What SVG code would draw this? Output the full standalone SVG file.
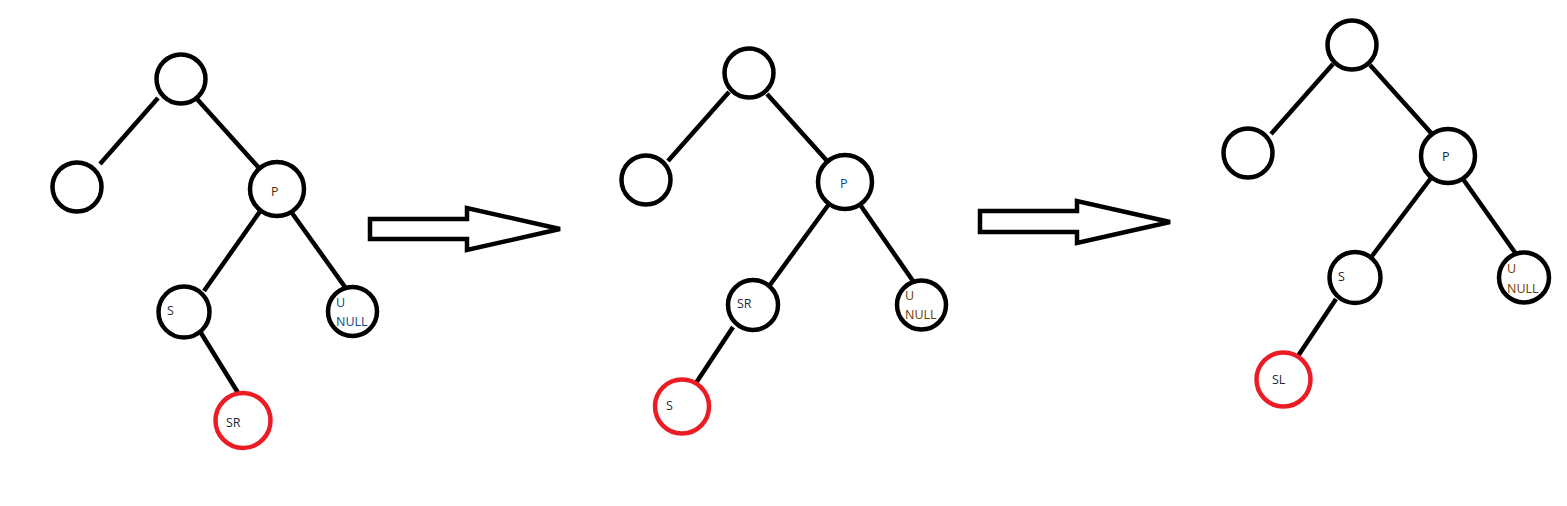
<svg xmlns="http://www.w3.org/2000/svg" width="1567" height="506" viewBox="0 0 1567 506">
<style>
.n{fill:#fff;stroke:#000;stroke-width:4.5}
.r{fill:#fff;stroke:#ec1c24;stroke-width:4.5}
.e{stroke:#000;stroke-width:4.5;stroke-linecap:butt}
.big{fill:#fff;stroke:#000;stroke-width:4.5;stroke-linejoin:miter}
text{font-family:"Open Sans","Noto Sans",sans-serif;font-size:12.5px;fill:#1e2a3a}
</style>
<rect width="1567" height="506" fill="#fff"/>
<g id="connectors">
<line class="e" x1="158" y1="98" x2="100" y2="164"/>
<line class="e" x1="197" y1="99" x2="259" y2="168"/>
<line class="e" x1="261" y1="210" x2="204" y2="291"/>
<line class="e" x1="292" y1="213" x2="345" y2="287"/>
<line class="e" x1="201" y1="333" x2="240" y2="396"/>
<line class="e" x1="729" y1="92" x2="668" y2="161"/>
<line class="e" x1="767" y1="94" x2="828" y2="162"/>
<line class="e" x1="829" y1="204" x2="770" y2="285"/>
<line class="e" x1="861" y1="206" x2="913" y2="281"/>
<line class="e" x1="733" y1="327" x2="696" y2="383"/>
<line class="e" x1="1333" y1="64" x2="1271" y2="134"/>
<line class="e" x1="1370" y1="65" x2="1432" y2="134"/>
<line class="e" x1="1431" y1="178" x2="1372" y2="256"/>
<line class="e" x1="1463" y1="179" x2="1516" y2="254"/>
<line class="e" x1="1336" y1="299" x2="1298" y2="356"/>
<polygon class="big" points="370,219 467,219 467,208 560,229 467,250 467,239 370,239"/>
<polygon class="big" points="980,211 1077,211 1077,201 1170,222 1077,243 1077,232 980,232"/>
</g>
<g id="t1-root"><circle class="n" cx="181" cy="79" r="24.5"/></g>
<g id="t1-left"><circle class="n" cx="77" cy="187" r="24.5"/></g>
<g id="t1-P"><circle class="n" cx="277" cy="189" r="27"/><text x="271" y="196" style="fill:#4a3210">P</text></g>
<g id="t1-S"><circle class="n" cx="184" cy="312" r="25.5"/><text x="167" y="315">S</text></g>
<g id="t1-U"><circle class="n" cx="352.5" cy="311.5" r="24.5"/><text x="336" y="307" style="fill:#0a4a86">U</text><text x="336" y="326" style="fill:#0a4a86">NULL</text></g>
<g id="t1-SR"><circle class="r" cx="243" cy="420.5" r="27.5"/><text x="226" y="427">SR</text></g>
<g id="t2-root"><circle class="n" cx="749" cy="73" r="24.5"/></g>
<g id="t2-left"><circle class="n" cx="646" cy="180" r="24.5"/></g>
<g id="t2-P"><circle class="n" cx="845" cy="182" r="27"/><text x="840" y="188" style="fill:#0a4a86">P</text></g>
<g id="t2-SR"><circle class="n" cx="753" cy="305" r="25"/><text x="737" y="308">SR</text></g>
<g id="t2-U"><circle class="n" cx="921.5" cy="305" r="24.5"/><text x="905" y="300" style="fill:#6a4000">U</text><text x="905" y="319" style="fill:#6a4000">NULL</text></g>
<g id="t2-S"><circle class="r" cx="682" cy="406.5" r="27"/><text x="666" y="410">S</text></g>
<g id="t3-root"><circle class="n" cx="1352" cy="45" r="24.5"/></g>
<g id="t3-left"><circle class="n" cx="1248" cy="153" r="24.5"/></g>
<g id="t3-P"><circle class="n" cx="1448" cy="156" r="27"/><text x="1442" y="161">P</text></g>
<g id="t3-S"><circle class="n" cx="1355" cy="277.5" r="25.5"/><text x="1338" y="281" style="fill:#3a1a2a">S</text></g>
<g id="t3-U"><circle class="n" cx="1524" cy="277.5" r="25"/><text x="1507" y="273" style="fill:#6a4000">U</text><text x="1507" y="293" style="fill:#6a4000">NULL</text></g>
<g id="t3-SL"><circle class="r" cx="1283.5" cy="379.5" r="27"/><text x="1272" y="384">SL</text></g>
</svg>
